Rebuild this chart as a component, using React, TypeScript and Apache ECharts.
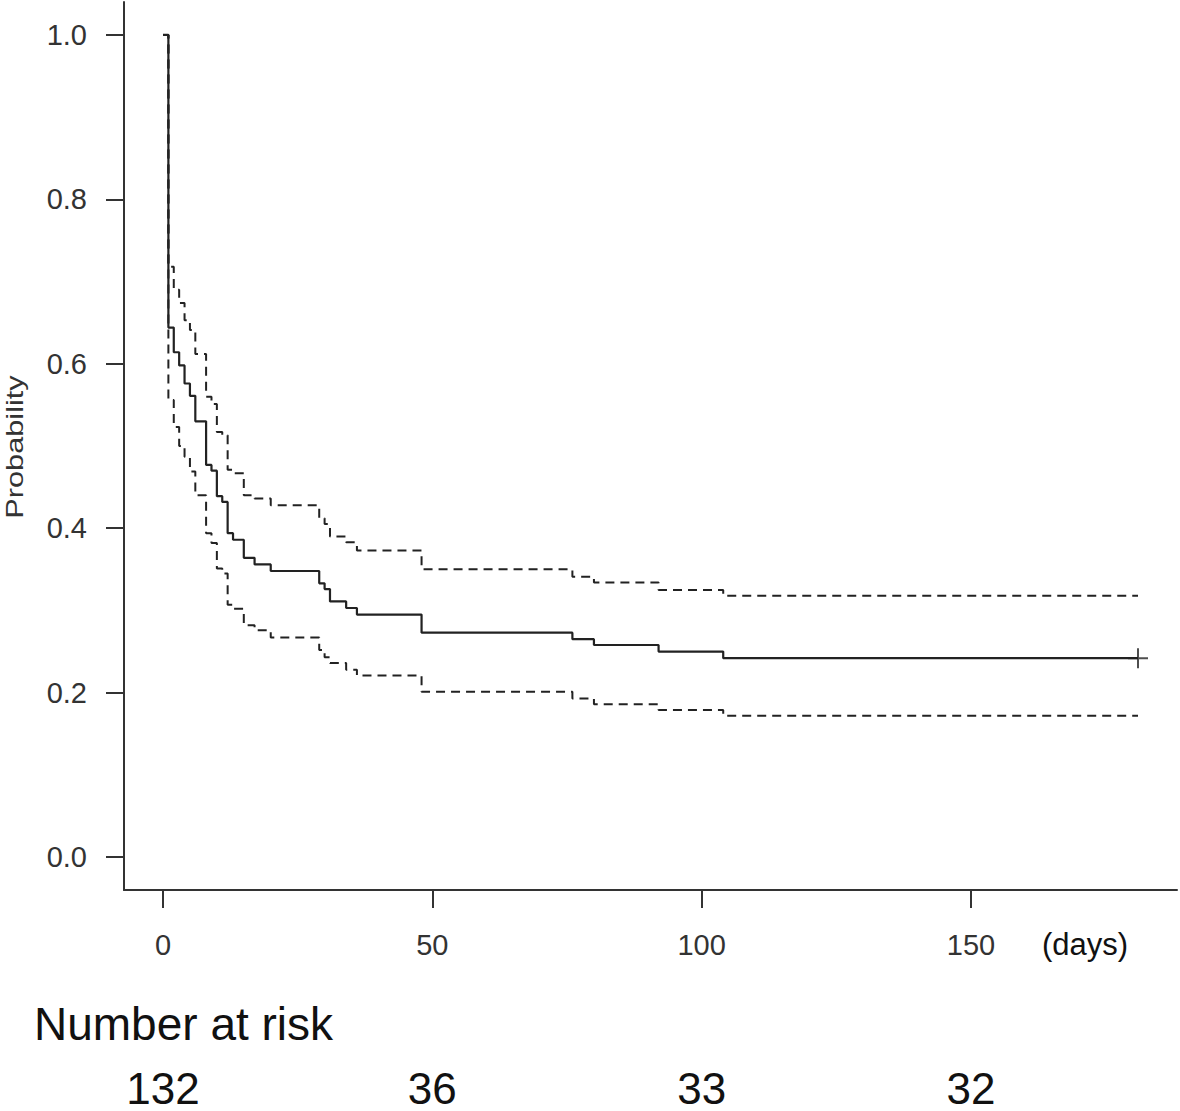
import React, { useEffect, useRef } from "react";
import * as echarts from "echarts";

// Kaplan–Meier step data (days, probability)
const stepDays = [0, 1, 2, 3, 4, 5, 6, 8, 9, 10, 11, 12, 13, 15, 17, 20, 29, 30, 31, 34, 36, 48, 76, 80, 92, 104, 181];
const survival = [1.0, 0.644, 0.614, 0.598, 0.576, 0.561, 0.53, 0.477, 0.47, 0.439, 0.432, 0.394, 0.386, 0.364, 0.356, 0.348, 0.333, 0.326, 0.311, 0.303, 0.295, 0.273, 0.265, 0.258, 0.25, 0.242, 0.242];
const upperCI = [1.0, 0.718, 0.69, 0.674, 0.653, 0.641, 0.612, 0.56, 0.551, 0.517, 0.513, 0.471, 0.467, 0.44, 0.436, 0.428, 0.412, 0.405, 0.39, 0.383, 0.373, 0.35, 0.341, 0.334, 0.325, 0.318, 0.318];
const lowerCI = [1.0, 0.556, 0.523, 0.5, 0.487, 0.469, 0.44, 0.394, 0.382, 0.351, 0.345, 0.307, 0.302, 0.282, 0.276, 0.267, 0.252, 0.243, 0.236, 0.228, 0.221, 0.201, 0.193, 0.186, 0.179, 0.172, 0.172];
const censorDays = [181];
const censorValues = [0.242];

const xTicks = [0, 50, 100, 150];
const yTicks = [0, 0.2, 0.4, 0.6, 0.8, 1.0];
const riskDays = [0, 50, 100, 150];
const riskCounts = [132, 36, 33, 32];

const X_MIN = -7.24;
const X_MAX = 188.24;
const INK = "#222";
const AXIS = "#333";
const FONT = "'Liberation Sans', Arial, sans-serif";

export default function App() {
  const ref = useRef<HTMLDivElement>(null);

  useEffect(() => {
    if (!ref.current) return;
    const chart = echarts.init(ref.current, undefined, { renderer: "svg" });
    const zip = (xs: number[], ys: number[]) => xs.map((x, i) => [x, ys[i]]);

    const option: any = {
      animation: false,
      backgroundColor: "#ffffff",
      grid: {
        left: 124,
        top: 2,
        width: 1053,
        height: 888,
        containLabel: false,
        outerBoundsMode: "none",
      },
      xAxis: [
        {
          type: "value",
          min: X_MIN,
          max: X_MAX,
          axisLine: { show: true, onZero: false, lineStyle: { color: AXIS, width: 2 } },
          axisTick: {
            show: true,
            inside: false,
            length: 18,
            customValues: xTicks,
            lineStyle: { color: AXIS, width: 2 },
          },
          axisLabel: {
            customValues: xTicks,
            margin: 40,
            fontSize: 29,
            fontFamily: FONT,
            color: AXIS,
          },
          splitLine: { show: false },
        },
        {
          type: "value",
          min: X_MIN,
          max: X_MAX,
          position: "bottom",
          axisLine: { show: false, onZero: false },
          axisTick: { show: false },
          axisLabel: {
            customValues: riskDays,
            margin: 176,
            fontSize: 44,
            lineHeight: 44,
            fontFamily: FONT,
            color: "#111",
            formatter: (v: number) => {
              const i = riskDays.indexOf(v);
              return i >= 0 ? String(riskCounts[i]) : "";
            },
          },
          splitLine: { show: false },
        },
      ],
      yAxis: {
        type: "value",
        min: -0.04,
        max: 1.04,
        axisLine: { show: true, onZero: false, lineStyle: { color: AXIS, width: 2 } },
        axisTick: {
          show: true,
          inside: false,
          length: 18,
          customValues: yTicks,
          lineStyle: { color: AXIS, width: 2 },
        },
        axisLabel: {
          customValues: yTicks,
          margin: 37,
          fontSize: 29,
          fontFamily: FONT,
          color: AXIS,
          padding: [8, 0, 0, 0],
          formatter: (v: number) => v.toFixed(1),
        },
        splitLine: { show: false },
      },
      series: [
        {
          name: "upper",
          type: "line",
          step: "end",
          symbol: "none",
          data: zip(stepDays, upperCI),
          lineStyle: { color: INK, width: 2, type: [9, 6] },
          z: 2,
        },
        {
          name: "lower",
          type: "line",
          step: "end",
          symbol: "none",
          data: zip(stepDays, lowerCI),
          lineStyle: { color: INK, width: 2, type: [9, 6] },
          z: 2,
        },
        {
          name: "survival",
          type: "line",
          step: "end",
          symbol: "none",
          data: zip(stepDays, survival),
          lineStyle: { color: INK, width: 2.2, type: "solid" },
          z: 3,
        },
        {
          name: "censored",
          type: "scatter",
          data: zip(censorDays, censorValues),
          symbol: "path://M10,0L10,20M0,10L20,10",
          symbolSize: 20,
          itemStyle: { color: "none", borderColor: INK, borderWidth: 2 },
          z: 4,
        },
      ],
      graphic: [
        {
          type: "text",
          x: 15,
          y: 447,
          rotation: Math.PI / 2,
          scaleX: 1.28,
          style: {
            text: "Probability",
            fontSize: 24,
            fontFamily: FONT,
            fill: AXIS,
            align: "center",
            verticalAlign: "middle",
            textAlign: "center",
            textVerticalAlign: "middle",
          },
        },
        {
          type: "text",
          x: 1085,
          y: 944,
          style: {
            text: "(days)",
            fontSize: 31,
            fontFamily: FONT,
            fill: "#111",
            align: "center",
            verticalAlign: "middle",
            textAlign: "center",
            textVerticalAlign: "middle",
          },
        },
        {
          type: "text",
          x: 34,
          y: 1024,
          style: {
            text: "Number at risk",
            fontSize: 46,
            fontFamily: FONT,
            fill: "#111",
            align: "left",
            verticalAlign: "middle",
            textAlign: "left",
            textVerticalAlign: "middle",
          },
        },
      ],
    };

    chart.setOption(option);
    return () => chart.dispose();
  }, []);

  return (
    <div
      ref={ref}
      style={{ position: "absolute", left: 0, top: 0, width: 1180, height: 1111, background: "#fff" }}
    />
  );
}
